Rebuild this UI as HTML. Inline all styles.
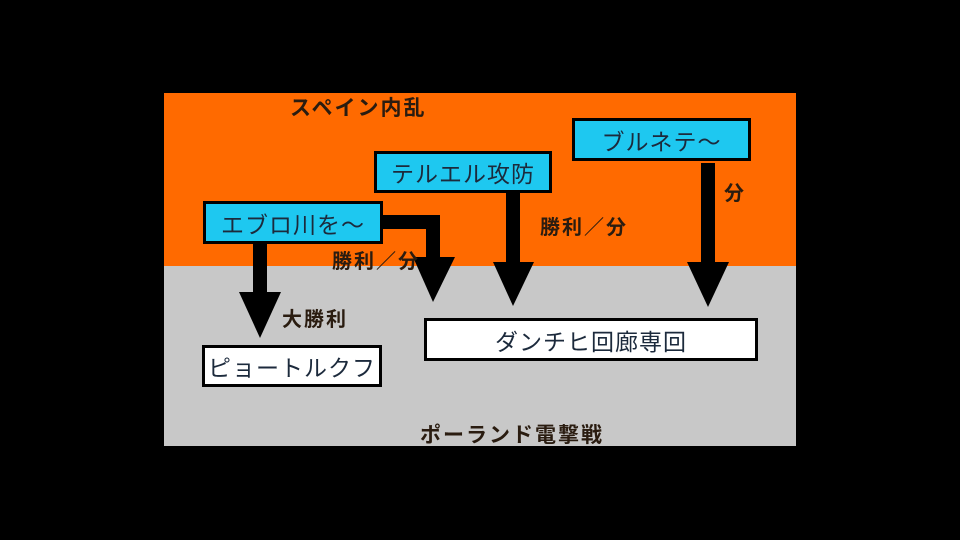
<!DOCTYPE html>
<html><head><meta charset="utf-8"><style>
body{margin:0;background:#000;width:960px;height:540px;overflow:hidden;position:relative;font-family:"Liberation Sans","Noto Sans CJK JP",sans-serif}
.a{position:absolute}
.box{position:absolute;box-sizing:border-box;border:3px solid #000;display:flex;align-items:center;justify-content:center;font-size:23px;color:#1c2a3c;letter-spacing:1px}
.lbl{position:absolute;font-weight:bold;font-size:20px;color:#2a1c10;white-space:nowrap;line-height:1;letter-spacing:2px}
</style></head><body>
<div class="a" style="left:164px;top:93px;width:632px;height:173px;background:#ff6a00"></div>
<div class="a" style="left:164px;top:266px;width:632px;height:180px;background:#c8c8c8"></div>
<svg class="a" style="left:0;top:0" width="960" height="540">
<g fill="#000">
<rect x="253" y="240" width="14" height="52"/><polygon points="239,292 281,292 260,338"/>
<rect x="380" y="215" width="60" height="14"/><rect x="426" y="215" width="14" height="44"/><polygon points="413,257 455,257 433,302"/>
<rect x="506" y="190" width="14" height="74"/><polygon points="493,262 534,262 513,306"/>
<rect x="701" y="163" width="14" height="101"/><polygon points="687,262 729,262 708,307"/>
</g></svg>
<div class="box" style="left:203px;top:201px;width:180px;height:43px;background:#1ec8f0">エブロ川を〜</div>
<div class="box" style="left:374px;top:151px;width:178px;height:42px;background:#1ec8f0">テルエル攻防</div>
<div class="box" style="left:572px;top:118px;width:179px;height:43px;background:#1ec8f0">ブルネテ〜</div>
<div class="box" style="left:424px;top:318px;width:334px;height:43px;background:#fff">ダンチヒ回廊専回</div>
<div class="box" style="left:202px;top:345px;width:180px;height:42px;background:#fff">ピョートルクフ</div>
<div class="lbl" style="left:290px;top:98px;font-size:21px">スペイン内乱</div>
<div class="lbl" style="left:332px;top:252px">勝利／分</div>
<div class="lbl" style="left:540px;top:218px">勝利／分</div>
<div class="lbl" style="left:724px;top:184px">分</div>
<div class="lbl" style="left:282px;top:310px">大勝利</div>
<div class="lbl" style="left:420px;top:425px;font-size:21px">ポーランド電撃戦</div>
</body></html>
